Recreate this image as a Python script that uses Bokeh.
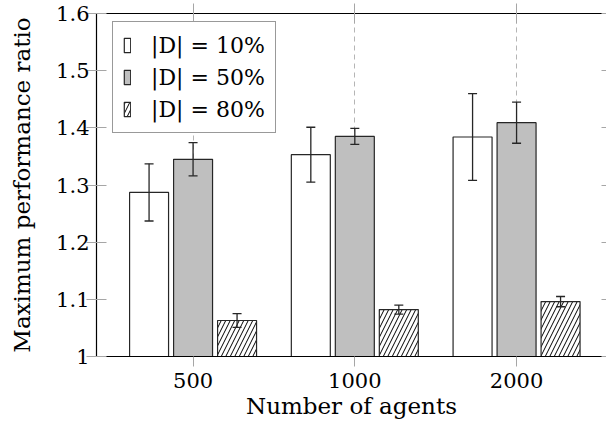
import numpy as np
from bokeh.plotting import figure
from bokeh.models import (Range1d, FixedTicker, LinearAxis, Legend, LegendItem,
                          Whisker, ColumnDataSource, TeeHead)
from bokeh.embed import file_html
from bokeh.resources import INLINE

# ---- data ----
categories = ["500", "1000", "2000"]
series_labels = ["|D| = 10%", "|D| = 50%", "|D| = 80%"]
means_10 = [1.287, 1.353, 1.384]
err_10 = [0.050, 0.048, 0.076]
means_50 = [1.345, 1.385, 1.409]
err_50 = [0.029, 0.014, 0.036]
means_80 = [1.063, 1.082, 1.096]
err_80 = [0.012, 0.008, 0.009]
y_ticks = [1.0, 1.1, 1.2, 1.3, 1.4, 1.5, 1.6]
y_tick_labels = ["1", "1.1", "1.2", "1.3", "1.4", "1.5", "1.6"]

FONT = "DejaVu Serif"
FS = "21px"
FS_LAB = "23px"
TICK_GRAY = "#a6a6a6"
EDGE = "#262626"

p = figure(width=606, height=426, output_backend="svg", toolbar_location=None,
           x_range=Range1d(-0.597, 2.556), y_range=Range1d(1.0, 1.6),
           min_border_left=96, min_border_right=0, min_border_top=13,
           min_border_bottom=70, x_axis_location="below")
p.outline_line_color = None
p.background_fill_color = "white"
p.border_fill_color = "white"

xs = np.arange(len(categories))
offsets = [-0.272, 0.0, 0.272]
bar_w = 0.241
styles = [
    dict(fill_color="white"),
    dict(fill_color="#bfbfbf"),
    dict(fill_color="white", hatch_pattern="/", hatch_color="black",
         hatch_scale=9, hatch_weight=1.0),
]
series = [(means_10, err_10), (means_50, err_50), (means_80, err_80)]

items = []
for (m, e), off, st, lab in zip(series, offsets, styles, series_labels):
    m = np.array(m)
    e = np.array(e)
    src = ColumnDataSource(dict(x=xs + off, top=m, upper=m + e, lower=m - e))
    r = p.vbar(x="x", top="top", bottom=1.0, width=bar_w, source=src,
               line_color=EDGE, line_width=1.2, **st)
    w = Whisker(base="x", upper="upper", lower="lower", source=src,
                line_color=EDGE, line_width=1.3, level="annotation",
                upper_head=TeeHead(size=9, line_color=EDGE, line_width=1.3),
                lower_head=TeeHead(size=9, line_color=EDGE, line_width=1.3))
    p.add_layout(w)
    items.append(LegendItem(label=lab, renderers=[r]))

# grid
p.xgrid.ticker = FixedTicker(ticks=list(xs))
p.xgrid.grid_line_color = "#b5b5b5"
p.xgrid.grid_line_dash = "5 4"
p.xgrid.grid_line_width = 1
p.ygrid.grid_line_color = None

# bottom axis
xa = p.xaxis[0]
xa.ticker = FixedTicker(ticks=list(xs))
xa.major_label_overrides = {int(i): c for i, c in zip(xs, categories)}
xa.axis_label = "Number of agents"
xa.axis_line_color = "black"
xa.axis_line_width = 1.2
xa.major_tick_line_color = TICK_GRAY
xa.major_tick_out = 10
xa.major_tick_in = 0
xa.minor_tick_line_color = None
xa.major_label_standoff = 6
xa.axis_label_standoff = 2
xa.major_label_text_font = FONT
xa.major_label_text_font_size = FS
xa.major_label_text_color = "black"
xa.axis_label_text_font = FONT
xa.axis_label_text_font_size = FS_LAB
xa.axis_label_text_font_style = "normal"
xa.axis_label_text_color = "black"

# left axis
ya = p.yaxis[0]
ya.ticker = FixedTicker(ticks=y_ticks)
ya.major_label_overrides = {t: l for t, l in zip(y_ticks, y_tick_labels)}
ya.axis_label = "Maximum performance ratio"
ya.axis_line_color = "black"
ya.axis_line_width = 1.2
ya.major_tick_line_color = TICK_GRAY
ya.major_tick_out = 10
ya.major_tick_in = 10
ya.minor_tick_line_color = None
ya.major_label_standoff = -3
ya.axis_label_standoff = 18
ya.major_label_text_font = FONT
ya.major_label_text_font_size = FS
ya.major_label_text_color = "black"
ya.axis_label_text_font = FONT
ya.axis_label_text_font_size = FS_LAB
ya.axis_label_text_font_style = "normal"
ya.axis_label_text_color = "black"

# top axis (frame line + centered ticks)
top = LinearAxis(ticker=FixedTicker(ticks=list(xs)), major_label_text_font_size="0px",
                 axis_line_color="black", axis_line_width=1.2,
                 major_tick_line_color=TICK_GRAY, major_tick_out=10, major_tick_in=10,
                 minor_tick_line_color=None, major_label_standoff=0)
top.major_label_overrides = {int(i): "" for i in xs}
p.add_layout(top, "above")

# right axis (only inward ticks visible)
right = LinearAxis(ticker=FixedTicker(ticks=y_ticks), major_label_text_font_size="0px",
                   axis_line_color=None, major_tick_line_color=TICK_GRAY,
                   major_tick_out=0, major_tick_in=5, minor_tick_line_color=None,
                   major_label_standoff=0)
right.major_label_overrides = {t: "" for t in y_ticks}
p.add_layout(right, "right")

legend = Legend(items=items, location=(16, 223))
legend.label_text_font = FONT
legend.label_text_font_size = "22px"
legend.label_text_color = "black"
legend.glyph_width = 8
legend.glyph_height = 18
legend.label_height = 26
legend.spacing = 6
legend.padding = 10
legend.label_standoff = 20
legend.border_line_color = "#333333"
legend.border_line_width = 1.2
legend.background_fill_alpha = 1.0
legend.margin = 0
p.add_layout(legend, "center")

open("out.html", "w").write(file_html(p, INLINE))
